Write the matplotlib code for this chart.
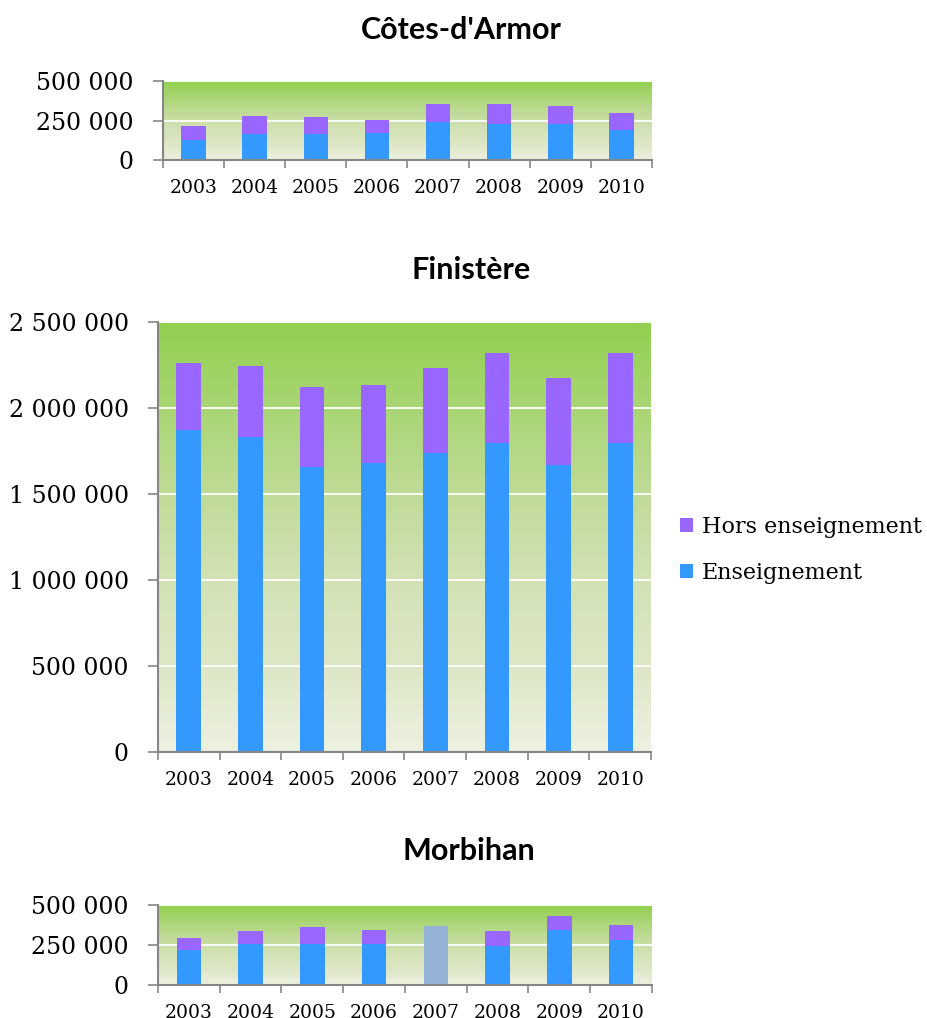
import numpy as np
import matplotlib.pyplot as plt
from matplotlib.colors import LinearSegmentedColormap

# Données (heures) par département
annees = ["2003", "2004", "2005", "2006", "2007", "2008", "2009", "2010"]

armor_ens = [128000, 166000, 166000, 170000, 242000, 229000, 229000, 191000]
armor_total = [214000, 277000, 271000, 252000, 355000, 355000, 340000, 296000]

finistere_ens = [1875000, 1833000, 1659000, 1678000, 1740000, 1798000, 1666000, 1798000]
finistere_total = [2262000, 2245000, 2123000, 2134000, 2233000, 2320000, 2175000, 2320000]

# 2007 : total seul, sans détail
morbihan_ens = [217000, 254000, 254000, 258000, np.nan, 242000, 346000, 283000]
morbihan_total = [296000, 340000, 365000, 346000, 371000, 340000, 433000, 377000]

COL_ENS = "#3399FF"
COL_HORS = "#9966FF"
COL_NONDET = "#95B3D7"
GRIS = "#868686"

W, H = 928, 1018
fig = plt.figure(figsize=(W / 100, H / 100), dpi=100)

# dégradé vert (haut) -> vert très pâle (bas)
fond = LinearSegmentedColormap.from_list(
    "fond", [(0.0, "#92D050"), (0.4, "#C0DB98"), (0.6, "#D2E2B5"),
             (0.8, "#DDE7C6"), (1.0, "#EDF1E1")])


def px_axes(left, top, right, bottom):
    return fig.add_axes([left / W, 1 - bottom / H, (right - left) / W, (bottom - top) / H])


def fmt(v):
    return f"{int(v):,}".replace(",", " ")


def graphe(ax, ens, total, ymax, pas, titre, titre_y, titre_x):
    x = np.arange(len(annees))
    ens = np.array(ens, dtype=float)
    total = np.array(total, dtype=float)
    hors = total - ens
    detail = ~np.isnan(ens)

    grad = np.linspace(0, 1, 256).reshape(-1, 1)
    ax.imshow(grad, cmap=fond, aspect="auto", extent=(-0.5, len(annees) - 0.5, 0, ymax),
              zorder=0, origin="upper")
    ax.set_xlim(-0.5, len(annees) - 0.5)
    ax.set_ylim(0, ymax)

    ax.bar(x[detail], ens[detail], width=0.4, color=COL_ENS, zorder=3, label="Enseignement")
    ax.bar(x[detail], hors[detail], width=0.4, bottom=ens[detail], color=COL_HORS, zorder=3,
           label="Hors enseignement")
    if (~detail).any():
        ax.bar(x[~detail], total[~detail], width=0.4, color=COL_NONDET, zorder=3)

    yt = np.arange(0, ymax + 1, pas)
    ax.set_yticks(yt)
    ax.set_yticklabels([fmt(v) for v in yt], fontfamily="DejaVu Serif", fontsize=17)
    for v in yt[1:]:
        ax.axhline(v, color="white", lw=1.3, zorder=1)

    ax.set_xticks(x)
    ax.set_xticklabels(annees, fontfamily="DejaVu Serif", fontsize=13.5)
    ax.set_xticks(np.arange(-0.5, len(annees)), minor=True)
    ax.tick_params(axis="x", which="major", length=0, pad=14)
    ax.tick_params(axis="x", which="minor", length=6, width=1.2, color=GRIS, direction="out")
    ax.tick_params(axis="y", length=7, width=1.2, color=GRIS, pad=14)

    for s in ("top", "right"):
        ax.spines[s].set_visible(False)
    for s in ("left", "bottom"):
        ax.spines[s].set_color(GRIS)
        ax.spines[s].set_linewidth(1.5)
        ax.spines[s].set_zorder(4)

    fig.text(titre_x / W, 1 - titre_y / H, titre, ha="center", va="center",
             fontfamily="Lato", fontweight="bold", fontsize=22)


ax1 = px_axes(163, 81, 652, 160)
graphe(ax1, armor_ens, armor_total, 500000, 250000, "Côtes-d'Armor", 30, 461)

ax2 = px_axes(158, 322, 651, 752)
graphe(ax2, finistere_ens, finistere_total, 2500000, 500000, "Finistère", 270, 471)

ax3 = px_axes(158, 905, 652, 985)
graphe(ax3, morbihan_ens, morbihan_total, 500000, 250000, "Morbihan", 851, 469)

h, l = ax2.get_legend_handles_labels()
fig.legend(h[::-1], l[::-1], loc="center left", bbox_to_anchor=(660 / W, 1 - 550 / H),
           frameon=False, prop={"family": "DejaVu Serif", "size": 16},
           handlelength=0.6, handleheight=0.6, handletextpad=0.4, labelspacing=1.1)

fig.savefig("out.png", dpi=100)
